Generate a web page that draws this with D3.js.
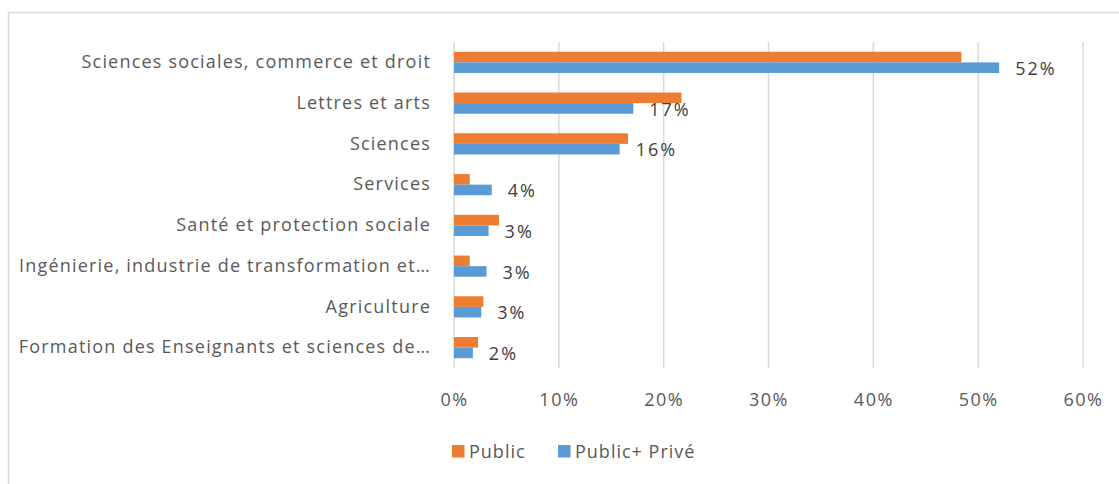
<!DOCTYPE html>
<html>
<head>
<meta charset="utf-8">
<script src="https://cdn.jsdelivr.net/npm/d3@7"></script>
<style>
  body { margin: 0; background: #fff; }
  text { font-family: "Open Sans", sans-serif; }
</style>
</head>
<body>
<div id="chart"></div>
<script>
// data
var categories = [
    "Sciences sociales, commerce et droit",
    "Lettres et arts",
    "Sciences",
    "Services",
    "Santé et protection sociale",
    "Ingénierie, industrie de transformation et…",
    "Agriculture",
    "Formation des Enseignants et sciences de…"
];
var publicValues = [48.4, 21.7, 16.6, 1.5, 4.3, 1.5, 2.8, 2.3];
var publicPriveValues = [52.0, 17.1, 15.8, 3.6, 3.3, 3.1, 2.6, 1.8];
var seriesNames = ["Public", "Public+ Privé"];
var xTicks = [0, 10, 20, 30, 40, 50, 60];

var colors = ["#ED7D31", "#5B9BD5"];

var svgWidth = 1119;
var svgHeight = 484;

var svg = d3.select("#chart")
    .append("svg")
    .attr("width", svgWidth)
    .attr("height", svgHeight);

// chart border (cut off at right / bottom like the screenshot)
svg.append("rect")
    .attr("x", 8.5)
    .attr("y", 12.5)
    .attr("width", 1200)
    .attr("height", 600)
    .attr("fill", "#fff")
    .attr("stroke", "#d9d9d9")
    .attr("stroke-width", 1.5);

var plotTop = 42, plotBottom = 368;

var x = d3.scaleLinear()
    .domain([0, 60])
    .range([454, 1083]);

var y0 = d3.scaleBand()
    .domain(categories)
    .range([plotTop, plotBottom])
    .paddingInner(0.48)
    .paddingOuter(0.24);

var y1 = d3.scaleBand()
    .domain(seriesNames)
    .range([0, y0.bandwidth()]);

// gridlines
svg.append("g")
    .selectAll("line")
    .data(xTicks)
    .enter()
    .append("line")
    .attr("x1", d => x(d))
    .attr("x2", d => x(d))
    .attr("y1", plotTop)
    .attr("y2", plotBottom)
    .attr("stroke", "#d9d9d9")
    .attr("stroke-width", 1.5);

// x axis labels
var xAxis = svg.append("g")
    .attr("transform", `translate(0, 390)`)
    .call(d3.axisBottom(x).tickValues(xTicks).tickSize(0).tickFormat(d => d + "%"));
xAxis.select(".domain").remove();
xAxis.selectAll("text")
    .attr("font-size", "18px")
    .attr("font-family", "Open Sans")
    .attr("letter-spacing", "1.5px")
    .attr("fill", "#595959");

// category labels
var yAxis = svg.append("g")
    .attr("transform", `translate(${x(0)}, 0)`)
    .call(d3.axisLeft(y0).tickSize(0).tickPadding(23));
yAxis.select(".domain").remove();
yAxis.selectAll("text")
    .attr("font-size", "18px")
    .attr("font-family", "Open Sans")
    .attr("letter-spacing", "1.2px")
    .attr("fill", "#595959");

// bars
var rows = categories.map((c, i) => ({
    cat: c,
    vals: [publicValues[i], publicPriveValues[i]]
}));

var rowGroups = svg.append("g")
    .selectAll("g")
    .data(rows)
    .enter()
    .append("g")
    .attr("transform", d => `translate(0, ${y0(d.cat)})`);

rowGroups.selectAll("rect")
    .data(d => d.vals.map((v, j) => ({ name: seriesNames[j], value: v, j: j })))
    .enter()
    .append("rect")
    .attr("x", x(0))
    .attr("y", d => y1(d.name))
    .attr("width", d => x(d.value) - x(0))
    .attr("height", y1.bandwidth())
    .attr("fill", d => colors[d.j]);

// data labels on the Public+ Privé series
rowGroups.append("text")
    .attr("x", d => x(d.vals[1]) + 16)
    .attr("y", y1(seriesNames[1]) + y1.bandwidth() / 2 + 1)
    .attr("dy", "0.35em")
    .attr("font-size", "18px")
    .attr("letter-spacing", "2px")
    .attr("fill", "#404040")
    .text(d => Math.round(d.vals[1]) + "%");

// legend
var legend = svg.append("g")
    .attr("transform", "translate(452, 445)");

var legendX = [0, 106];
seriesNames.forEach(function (name, i) {
    legend.append("rect")
        .attr("x", legendX[i])
        .attr("y", 0)
        .attr("width", 12.5)
        .attr("height", 12.5)
        .attr("fill", colors[i]);
    legend.append("text")
        .attr("x", legendX[i] + 17)
        .attr("y", 6.5)
        .attr("dy", "0.35em")
        .attr("font-size", "18px")
        .attr("letter-spacing", "1px")
        .attr("fill", "#595959")
        .text(name);
});
</script>
</body>
</html>
